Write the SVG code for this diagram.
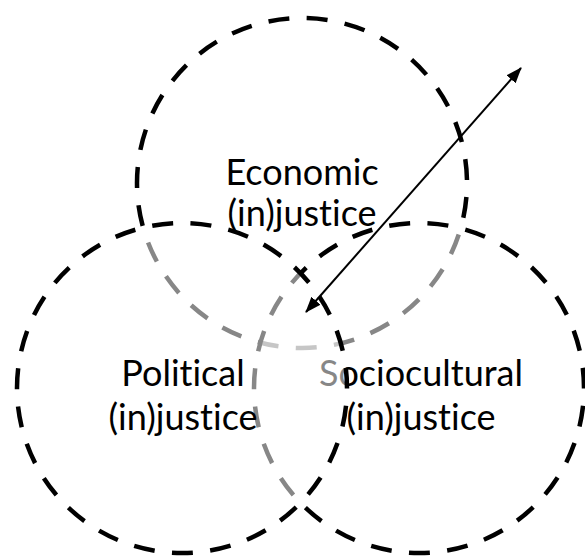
<svg xmlns="http://www.w3.org/2000/svg" width="585" height="559" viewBox="0 0 585 559">
  <defs>
    <style>
      .ring { fill: #ffffff; fill-opacity: 0.53; stroke: #000; stroke-width: 4.5; stroke-dasharray: 21 17.396; }
      .top { fill: none; }
      .label { font-family: Lato, "Open Sans", "Liberation Sans", sans-serif; font-size: 36px; fill: #000; text-anchor: middle; font-variant-ligatures: none; font-feature-settings: "liga" 0, "clig" 0; }
      .conn { stroke: #000; stroke-width: 2; fill: none; }
    </style>
    <marker id="ah" viewBox="0 0 16 12" refX="15" refY="6" markerWidth="16" markerHeight="12" markerUnits="userSpaceOnUse" orient="auto-start-reverse">
      <path d="M0,0 L16,6 L0,12 z" fill="#000"/>
    </marker>
  </defs>
  <rect width="585" height="559" fill="#fff"/>
  <g id="economic">
    <circle class="ring top" cx="302" cy="183" r="165" stroke-dashoffset="24.4"/>
    <text class="label" x="302" y="185">Economic</text>
    <text class="label" x="302" y="226">(in)justice</text>
  </g>
  <g id="sociocultural">
    <circle class="ring" cx="419" cy="388" r="165" stroke-dashoffset="20.6"/>
    <text class="label" x="421" y="386">Sociocultural</text>
    <text class="label" x="421" y="430">(in)justice</text>
  </g>
  <g id="political">
    <circle class="ring" cx="182" cy="388" r="165" stroke-dashoffset="20.6"/>
    <text class="label" x="183" y="386">Political</text>
    <text class="label" x="183" y="430">(in)justice</text>
  </g>
  <g id="connectors">
    <line class="conn" x1="306" y1="312" x2="521" y2="68" marker-start="url(#ah)" marker-end="url(#ah)"/>
  </g>
</svg>
